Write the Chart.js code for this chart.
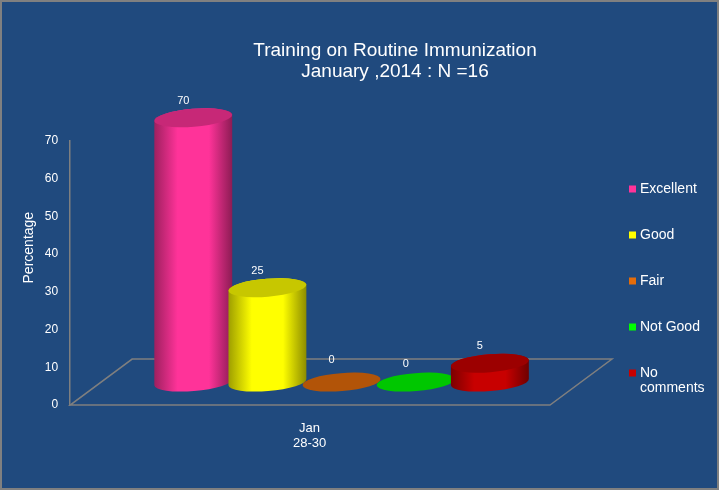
<!DOCTYPE html>
<html>
<head>
<meta charset="utf-8">
<script src="https://cdn.jsdelivr.net/npm/chart.js"></script>
<style>
html,body{margin:0;padding:0;background:#204A7E}
#frame{width:719px;height:490px;box-sizing:border-box;border:2px solid #808080;background:#204A7E}
canvas{display:block}
</style>
</head>
<body>
<div id="frame"><canvas id="c" width="715" height="486"></canvas></div>
<script>
const categories = [['Jan', '28-30']];
const seriesNames = ['Excellent', 'Good', 'Fair', 'Not Good', ['No', 'comments']];
const seriesValues = [70, 25, 0, 0, 5];
const seriesColors = ['#FF3399', '#FFFF00', '#E46C0A', '#00FF00', '#C80000'];
const yTicks = [0, 10, 20, 30, 40, 50, 60, 70];
const titleLines = ['Training on Routine Immunization', 'January ,2014 : N =16'];

// oblique floor: how far the back edge sits from the front one
const depthX = 62, depthY = 46;
const gridColor = '#7F7F7F';
const font = 'Liberation Sans, Arial, sans-serif';
// extra gap above each cylinder for its value label
const labelLift = [8, 8, 13, 9, 8];

function shade(hex, k) {
  const n = parseInt(hex.slice(1), 16);
  return `rgb(${Math.round((n >> 16) * k)},${Math.round(((n >> 8) & 255) * k)},${Math.round((n & 255) * k)})`;
}

function drawCylinder(chart, index) {
  const { ctx, scales } = chart;
  const bar = chart.getDatasetMeta(index).data[0];
  const color = chart.data.datasets[index].backgroundColor;
  const rx = bar.width / 2 + 2, ry = 9, tilt = -0.08;
  const cx = bar.x;
  const yBase = scales.y.getPixelForValue(0) - depthY / 2;
  const yTop = bar.y - depthY / 2;
  ctx.save();
  if (yBase - yTop > 0.5) {
    const g = ctx.createLinearGradient(cx - rx, 0, cx + rx, 0);
    g.addColorStop(0, shade(color, 0.62));
    g.addColorStop(0.3, color);
    g.addColorStop(0.7, color);
    g.addColorStop(1, shade(color, 0.55));
    ctx.fillStyle = g;
    ctx.beginPath();
    ctx.ellipse(cx, yBase, rx, ry, tilt, Math.PI, 0, true);
    ctx.ellipse(cx, yTop, rx, ry, tilt, 0, Math.PI, true);
    ctx.closePath();
    ctx.fill();
  }
  ctx.fillStyle = shade(color, 0.78);
  ctx.beginPath();
  ctx.ellipse(cx, yTop, rx, ry, tilt, 0, Math.PI * 2);
  ctx.fill();
  ctx.fillStyle = '#FFFFFF';
  ctx.font = '11px ' + font;
  ctx.textAlign = 'center';
  ctx.textBaseline = 'middle';
  ctx.fillText(String(seriesValues[index]), cx - 10, yTop - ry - labelLift[index]);
  ctx.restore();
}

const floorPlugin = {
  id: 'floor',
  afterLayout(chart) {
    chart.titleBlock.left += 79;
    chart.titleBlock.right += 79;
    // legend floats to the right of the floor without taking room from it
    const lg = chart.legend;
    const w = lg.width, h = lg.height;
    lg.left = 598; lg.right = 598 + w; lg.width = w;
    lg.top = 148; lg.bottom = 148 + h + 40; lg.height = h + 40;
  },
  beforeDatasetsDraw(chart) {
    const { ctx, chartArea: a } = chart;
    ctx.save();
    ctx.strokeStyle = gridColor;
    ctx.lineWidth = 1.5;
    ctx.beginPath();
    ctx.moveTo(a.left, a.bottom);
    ctx.lineTo(a.right - depthX - 1, a.bottom);
    ctx.lineTo(a.right - 1, a.bottom - depthY);
    ctx.lineTo(a.left + depthX, a.bottom - depthY);
    ctx.closePath();
    ctx.stroke();
    ctx.restore();
    // left to right, so each cylinder overlaps the one before it
    seriesValues.forEach((v, i) => drawCylinder(chart, i));
  },
  beforeDatasetDraw() {
    return false;
  }
};

new Chart(document.getElementById('c'), {
  type: 'bar',
  data: {
    labels: categories,
    datasets: seriesNames.map((name, i) => ({
      label: name,
      data: [seriesValues[i]],
      backgroundColor: seriesColors[i],
      // the legend square is a 1px box with a thick stroke, so its text sits close
      borderColor: seriesColors[i],
      borderWidth: 6
    }))
  },
  plugins: [floorPlugin],
  options: {
    responsive: false,
    animation: false,
    categoryPercentage: 0.683,
    barPercentage: 1,
    layout: { padding: { left: 17, right: 104, top: 0, bottom: 29 } },
    plugins: {
      tooltip: { enabled: false },
      title: {
        display: true,
        text: titleLines,
        color: '#FFFFFF',
        font: { family: font, size: 19, weight: 'normal', lineHeight: 1.1 },
        padding: { top: 38, bottom: 59 }
      },
      legend: {
        position: 'chartArea',
        align: 'start',
        labels: {
          color: '#FFFFFF',
          font: { family: font, size: 14, lineHeight: 1.1 },
          boxWidth: 1,
          boxHeight: 1,
          padding: 32
        }
      }
    },
    scales: {
      x: {
        grid: { display: false },
        border: { display: false },
        ticks: {
          color: '#FFFFFF',
          font: { family: font, size: 13, lineHeight: 1.15 },
          maxRotation: 0,
          labelOffset: -32,
          padding: 8
        }
      },
      y: {
        min: 0,
        max: 70,
        afterBuildTicks(axis) { axis.ticks = yTicks.map(v => ({ value: v })); },
        grid: { display: false },
        border: { color: gridColor, width: 1.5 },
        ticks: { color: '#FFFFFF', font: { family: font, size: 12 }, padding: 4 },
        title: {
          display: true,
          text: '             Percentage',
          color: '#FFFFFF',
          font: { family: font, size: 14 },
          padding: { top: 2, bottom: 3 }
        }
      }
    }
  }
});
</script>
</body>
</html>
